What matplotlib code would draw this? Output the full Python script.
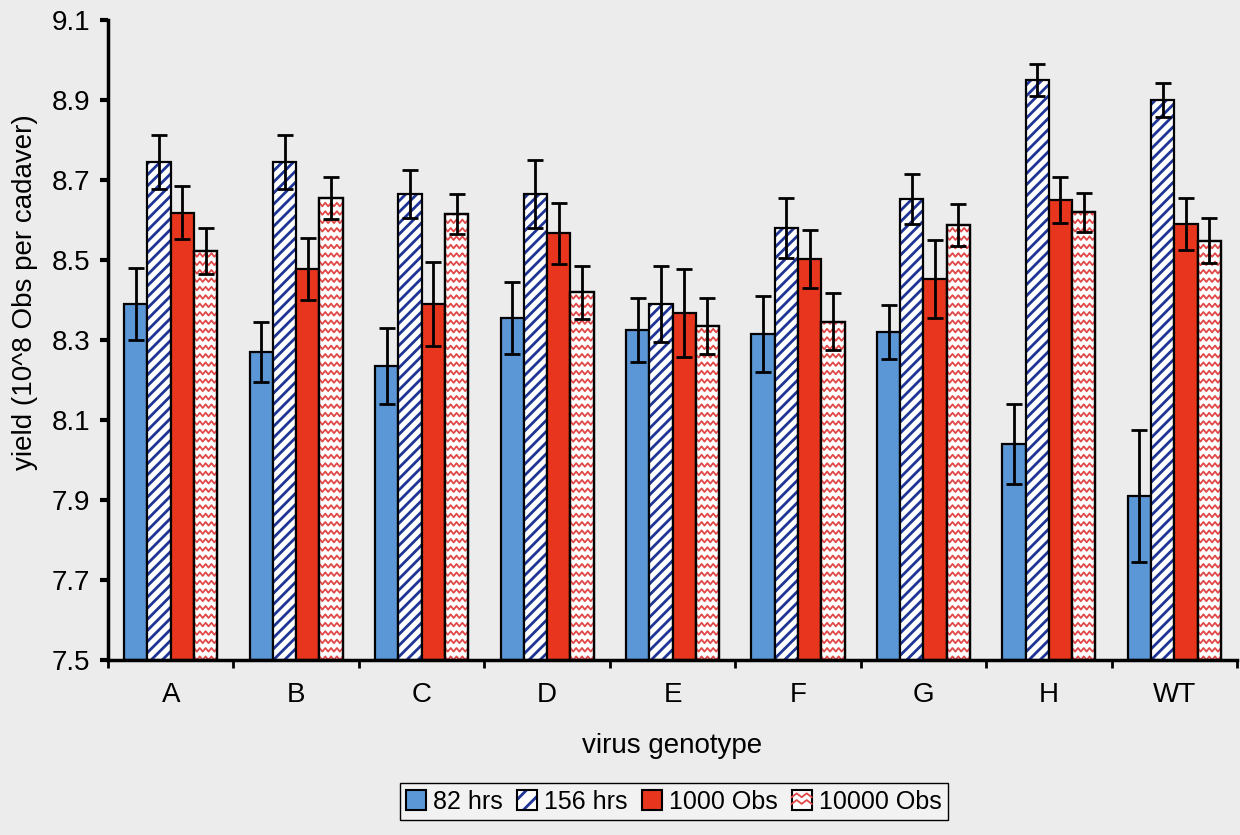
import matplotlib
matplotlib.use("Agg")
import matplotlib.pyplot as plt
import numpy as np
from matplotlib.patches import Patch, Rectangle
from matplotlib.lines import Line2D
from matplotlib.legend_handler import HandlerTuple, HandlerBase

plt.rcParams["font.family"] = ["Liberation Sans", "DejaVu Sans"]
plt.rcParams["hatch.linewidth"] = 2.0

# data
genotypes = ["A", "B", "C", "D", "E", "F", "G", "H", "WT"]
hrs82 = [8.39, 8.27, 8.235, 8.355, 8.325, 8.315, 8.32, 8.04, 7.91]
hrs82_err = [0.09, 0.075, 0.095, 0.09, 0.08, 0.095, 0.068, 0.10, 0.165]
hrs156 = [8.745, 8.745, 8.665, 8.665, 8.39, 8.58, 8.652, 8.95, 8.90]
hrs156_err = [0.068, 0.068, 0.06, 0.085, 0.095, 0.074, 0.062, 0.04, 0.043]
obs1000 = [8.618, 8.478, 8.39, 8.567, 8.368, 8.503, 8.453, 8.65, 8.59]
obs1000_err = [0.066, 0.077, 0.105, 0.076, 0.11, 0.072, 0.097, 0.057, 0.066]
obs10000 = [8.523, 8.655, 8.614, 8.419, 8.335, 8.346, 8.588, 8.619, 8.548]
obs10000_err = [0.058, 0.052, 0.05, 0.066, 0.071, 0.072, 0.052, 0.048, 0.056]
yticks = [7.5, 7.7, 7.9, 8.1, 8.3, 8.5, 8.7, 8.9, 9.1]
labels = ["82 hrs", "156 hrs", "1000 Obs", "10000 Obs"]

BG = "#ECECEC"
BLUE = "#5B97D6"
NAVY = "#1E3596"
RED = "#E8361E"
PINK = "#E04848"

YMIN, YMAX = 7.5, 9.1
width = 0.1855
x = np.arange(len(genotypes))

fig = plt.figure(figsize=(12.4, 8.35), dpi=100, facecolor=BG)
ax = fig.add_axes([0.0871, 0.2096, 0.9105, 0.7665], facecolor=BG)


def bars(vals, k, **kw):
    heights = np.array(vals) - YMIN
    return ax.bar(x + (k - 1.5) * width, heights, width, bottom=YMIN, **kw)


# 82 hrs: solid blue
bars(hrs82, 0, color=BLUE, edgecolor="black", linewidth=1.6)
# 156 hrs: white with navy diagonal stripes
bars(hrs156, 1, facecolor="white", edgecolor=NAVY, linewidth=0, hatch="///")
bars(hrs156, 1, fill=False, edgecolor="black", linewidth=1.6)
# 1000 Obs: solid red
bars(obs1000, 2, color=RED, edgecolor="black", linewidth=1.6)
# 10000 Obs: white with red zigzag lines
pink = bars(obs10000, 3, facecolor="white", edgecolor="black", linewidth=1.6)
for rect in pink:
    x0, w = rect.get_x(), rect.get_width()
    y0, h = rect.get_y(), rect.get_height()
    xs = np.linspace(x0 - w / 8, x0 + w + w / 8, 11)
    amp = np.tile([0.0, 0.009], 6)[: len(xs)]
    for yy in np.arange(y0, y0 + h + 0.02, 0.021):
        ln, = ax.plot(xs, yy + amp, color=PINK, lw=1.3, zorder=rect.get_zorder() + 0.1)
        ln.set_clip_path(rect)
    ax.bar(x0 + w / 2, h, w, bottom=y0, fill=False, edgecolor="black", linewidth=1.6,
           zorder=rect.get_zorder() + 0.2)

# error bars
for k, (vals, errs) in enumerate([(hrs82, hrs82_err), (hrs156, hrs156_err),
                                   (obs1000, obs1000_err), (obs10000, obs10000_err)]):
    ax.errorbar(x + (k - 1.5) * width, vals, yerr=errs, fmt="none", zorder=5,
                ecolor="black", elinewidth=2, capsize=5.5, capthick=2)

ax.set_xlim(-0.5, len(genotypes) - 0.5)
ax.set_ylim(YMIN, YMAX)
ax.set_yticks(yticks)
ax.set_yticklabels([f"{t:.1f}" for t in yticks], fontsize=20)
ax.set_xticks(np.arange(-0.5, len(genotypes), 1.0))
ax.set_xticklabels([])
ax.set_xticks(x, minor=True)
ax.set_xticklabels(genotypes, minor=True, fontsize=20)
ax.tick_params(axis="x", which="major", length=6, width=2, direction="out")
ax.tick_params(axis="x", which="minor", length=0, pad=16)
ax.tick_params(axis="y", length=6, width=3, direction="out", pad=7)

for side in ["top", "right"]:
    ax.spines[side].set_visible(False)
for side in ["left", "bottom"]:
    ax.spines[side].set_linewidth(2.5)

ax.set_ylabel("yield (10^8 Obs per cadaver)", fontsize=20)
ax.yaxis.set_label_coords(-0.062, 0.575)
ax.set_xlabel("virus genotype", fontsize=20, labelpad=18)


class ZigzagHandler(HandlerBase):
    def create_artists(self, legend, orig_handle, xdescent, ydescent, width, height, fontsize, trans):
        box = Rectangle((-xdescent, -ydescent), width, height, facecolor="white",
                        edgecolor="black", linewidth=1.5, transform=trans)
        arts = [box]
        xs = np.linspace(-xdescent, -xdescent + width, 5)
        for frac in (0.3, 0.65):
            ys = -ydescent + height * (frac + np.tile([0.0, 0.2], 3)[:5])
            zz = Line2D(xs, ys, color=PINK, lw=1.3, transform=trans)
            arts.append(zz)
        return arts


zig_proxy = object()
handles = [
    Patch(facecolor=BLUE, edgecolor="black", linewidth=1.5),
    (Patch(facecolor="white", edgecolor=NAVY, linewidth=0, hatch="//"),
     Patch(fill=False, edgecolor="black", linewidth=1.5)),
    Patch(facecolor=RED, edgecolor="black", linewidth=1.5),
    zig_proxy,
]
leg = fig.legend(handles, labels, loc="lower center", bbox_to_anchor=(0.5435, 0.003),
                 ncol=4, fontsize=18, frameon=True, fancybox=False, edgecolor="black",
                 facecolor="#F2F2F2", framealpha=1, handlelength=0.8, handleheight=0.8,
                 handletextpad=0.3, columnspacing=0.55, borderpad=0.25,
                 handler_map={tuple: HandlerTuple(ndivide=1), zig_proxy: ZigzagHandler()})
leg.get_frame().set_linewidth(1.0)

fig.savefig("out.png", dpi=100, facecolor=BG)
